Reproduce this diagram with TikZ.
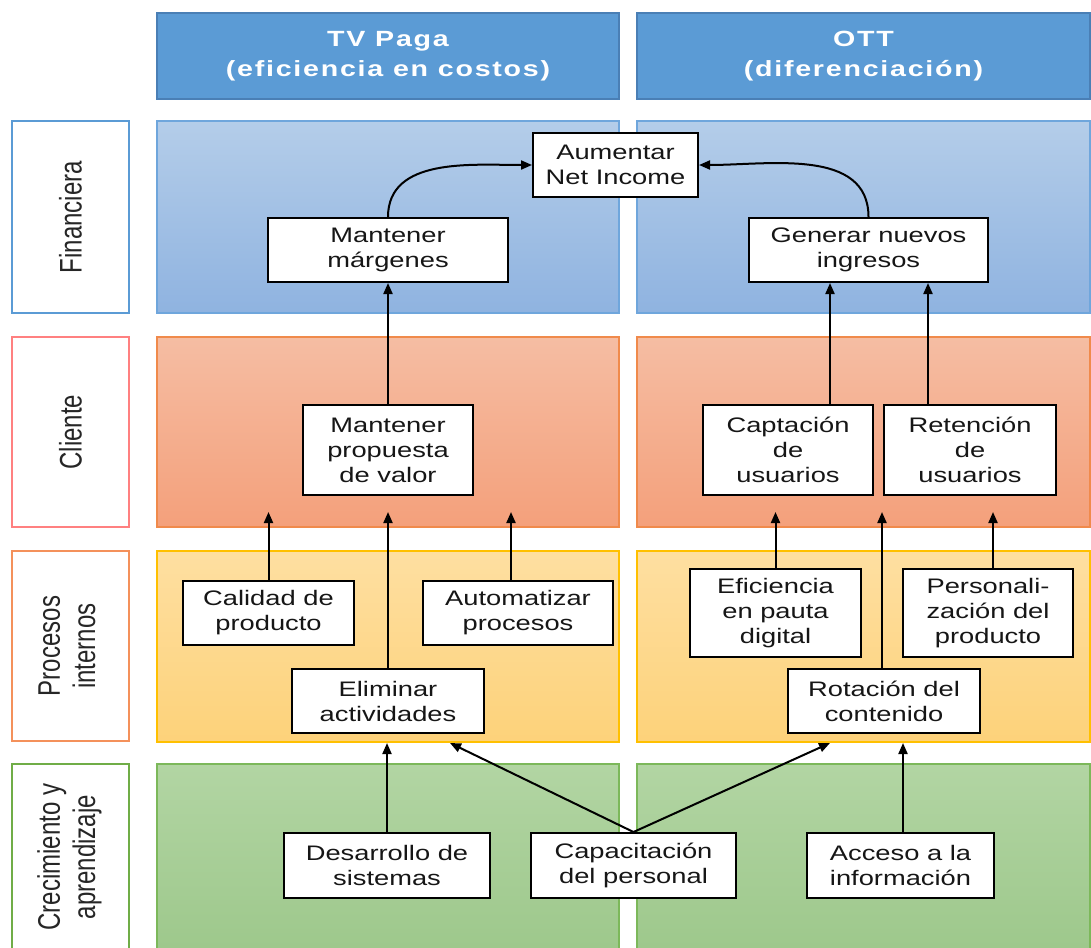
\documentclass[tikz,border=0pt]{standalone}
\usepackage{fontspec}
\setmainfont{Liberation Sans}[FakeStretch=1.3]
\newfontfamily\hdrfont{Liberation Sans}[FakeStretch=1.3,LetterSpace=8]
\newfontfamily\sidefont{Liberation Sans}
\usetikzlibrary{arrows.meta}

\definecolor{hdrfill}{HTML}{5B9BD5}
\definecolor{hdredge}{HTML}{4A7FB5}
\definecolor{finTop}{HTML}{B4CDE9}
\definecolor{finBot}{HTML}{8FB3E0}
\definecolor{finEdge}{HTML}{6FA6DC}
\definecolor{cliTop}{HTML}{F5BDA3}
\definecolor{cliBot}{HTML}{F4A07B}
\definecolor{cliEdge}{HTML}{F08A4B}
\definecolor{proTop}{HTML}{FEDFA1}
\definecolor{proBot}{HTML}{FDD27A}
\definecolor{proEdge}{HTML}{FFC000}
\definecolor{groTop}{HTML}{B2D5A3}
\definecolor{groBot}{HTML}{9CC78A}
\definecolor{groEdge}{HTML}{7CB85A}
\definecolor{labFin}{HTML}{5B9BD5}
\definecolor{labCli}{HTML}{FF8080}
\definecolor{labPro}{HTML}{F4915B}
\definecolor{labGro}{HTML}{70AD47}
\definecolor{txt}{HTML}{161616}
\definecolor{sidetxt}{HTML}{262626}

\tikzset{
  band/.style={rectangle, inner sep=0pt, line width=1.5pt},
  hdr/.style={rectangle, inner sep=0pt, fill=hdrfill, draw=hdredge, line width=1.2pt,
    text=white, align=center, font=\hdrfont\bfseries\fontsize{22}{30}\selectfont},
  sidebox/.style={rectangle, inner sep=0pt, fill=white, line width=1.5pt, rotate=90,
    text=sidetxt, font=\sidefont\fontsize{24}{27}\selectfont},
  box/.style={rectangle, draw=black, line width=2pt, fill=white, inner sep=0pt,
    align=center, text=txt, font=\fontsize{21}{25}\selectfont},
  arr/.style={draw=black, line width=2pt, -{Triangle[length=11pt,width=9pt]}}
}

\begin{document}
\begin{tikzpicture}[x=1pt,y=-1pt]
\useasboundingbox (0,0) rectangle (1091,947);

% column headings
\node[hdr, minimum width=462, minimum height=86] (hTV)  at (388,56)   {TV Paga\\(eficiencia en costos)};
\node[hdr, minimum width=453, minimum height=86] (hOTT) at (863.5,56) {OTT\\(diferenciación)};

% perspective labels on the left
\node[sidebox, draw=labFin, minimum width=192, minimum height=117] (sFin) at (70.5,217)
  {\scalebox{1}[1.3]{Financiera}};
\node[sidebox, draw=labCli, minimum width=190, minimum height=117] (sCli) at (70.5,432)
  {\scalebox{1}[1.3]{Cliente}};
\node[sidebox, draw=labPro, minimum width=190, minimum height=117] (sPro) at (70.5,646)
  {\scalebox{1}[1.3]{\begin{tabular}{@{}c@{}}Procesos\\internos\end{tabular}}};
\node[sidebox, draw=labGro, minimum width=186, minimum height=117] (sGro) at (70.5,857)
  {\scalebox{1}[1.3]{\begin{tabular}{@{}c@{}}Crecimiento y\\aprendizaje\end{tabular}}};

% coloured bands, TV Paga column
\node[band, top color=finTop, bottom color=finBot, draw=finEdge, minimum width=462, minimum height=192] (bFinL) at (388,217) {};
\node[band, top color=cliTop, bottom color=cliBot, draw=cliEdge, minimum width=462, minimum height=190] (bCliL) at (388,432) {};
\node[band, top color=proTop, bottom color=proBot, draw=proEdge, minimum width=462, minimum height=191] (bProL) at (388,646.5) {};
\node[band, top color=groTop, bottom color=groBot, draw=groEdge, minimum width=462, minimum height=200] (bGroL) at (388,864) {};
% coloured bands, OTT column
\node[band, top color=finTop, bottom color=finBot, draw=finEdge, minimum width=453, minimum height=192] (bFinR) at (863.5,217) {};
\node[band, top color=cliTop, bottom color=cliBot, draw=cliEdge, minimum width=453, minimum height=190] (bCliR) at (863.5,432) {};
\node[band, top color=proTop, bottom color=proBot, draw=proEdge, minimum width=453, minimum height=191] (bProR) at (863.5,646.5) {};
\node[band, top color=groTop, bottom color=groBot, draw=groEdge, minimum width=453, minimum height=200] (bGroR) at (863.5,864) {};

% objectives
\node[box, minimum width=165, minimum height=64] (inc) at (615.5,165) {Aumentar\\Net Income};
\node[box, minimum width=240, minimum height=64] (mar) at (388,250)   {Mantener\\márgenes};
\node[box, minimum width=239, minimum height=64] (gen) at (868.5,250) {Generar nuevos\\ingresos};

\node[box, minimum width=170, minimum height=90] (prop) at (388,450) {Mantener\\propuesta\\de valor};
\node[box, minimum width=170, minimum height=90] (capt) at (788,450) {Captación\\de\\usuarios};
\node[box, minimum width=172, minimum height=90] (ret)  at (970,450) {Retención\\de\\usuarios};

\node[box, minimum width=171, minimum height=64] (cal) at (268.5,613) {Calidad de\\producto};
\node[box, minimum width=190, minimum height=64] (aut) at (518,613)   {Automatizar\\procesos};
\node[box, minimum width=192, minimum height=64] (eli) at (388,701)   {Eliminar\\actividades};
\node[box, minimum width=171, minimum height=88] (efi) at (775.5,613) {Eficiencia\\en pauta\\digital};
\node[box, minimum width=170, minimum height=88] (per) at (988,613)   {Personali-\\zación del\\producto};
\node[box, minimum width=192, minimum height=64] (rot) at (884,701)   {Rotación del\\contenido};

\node[box, minimum width=206, minimum height=65] (des)  at (387,865.5)   {Desarrollo de\\sistemas};
\node[box, minimum width=205, minimum height=65] (capc) at (633.5,865.5) {Capacitación\\del personal};
\node[box, minimum width=187, minimum height=65] (acc)  at (900.5,865.5) {Acceso a la\\información};

% free ends of the arrows that stop inside a band
\coordinate (tipCli) at (0,512);
\coordinate (tipPro) at (0,743);
\coordinate (capOut) at ([xshift=42pt]capt.north);
\coordinate (retOut) at ([xshift=-42pt]ret.north);
\coordinate (autOut) at ([xshift=-7pt]aut.north);
\coordinate (rotOut) at ([xshift=-2pt]rot.north);
\coordinate (perOut) at ([xshift=5pt]per.north);
\coordinate (accOut) at ([xshift=2.5pt]acc.north);
\coordinate (capcTop) at (capc.north);
\coordinate (eliIn) at (450,743);
\coordinate (rotIn) at (830,743);

% financial level
\draw[arr] (mar.north) to[out=90,in=180] (inc.west);
\draw[arr] (gen.north) to[out=90,in=0] (inc.east);

% customer to financial
\draw[arr] (prop.north) -- (mar.south);
\draw[arr] (capOut) -- (capOut |- gen.south);
\draw[arr] (retOut) -- (retOut |- gen.south);

% internal processes to customer
\draw[arr] (cal.north) -- (cal.north |- tipCli);
\draw[arr] (eli.north) -- (eli.north |- tipCli);
\draw[arr] (autOut) -- (autOut |- tipCli);
\draw[arr] (efi.north) -- (efi.north |- tipCli);
\draw[arr] (rotOut) -- (rotOut |- tipCli);
\draw[arr] (perOut) -- (perOut |- tipCli);

% learning and growth to internal processes
\draw[arr] (des.north) -- (des.north |- tipPro);
\draw[arr] (capcTop) -- (eliIn);
\draw[arr] (capcTop) -- (rotIn);
\draw[arr] (accOut) -- (accOut |- tipPro);
\end{tikzpicture}
\end{document}
